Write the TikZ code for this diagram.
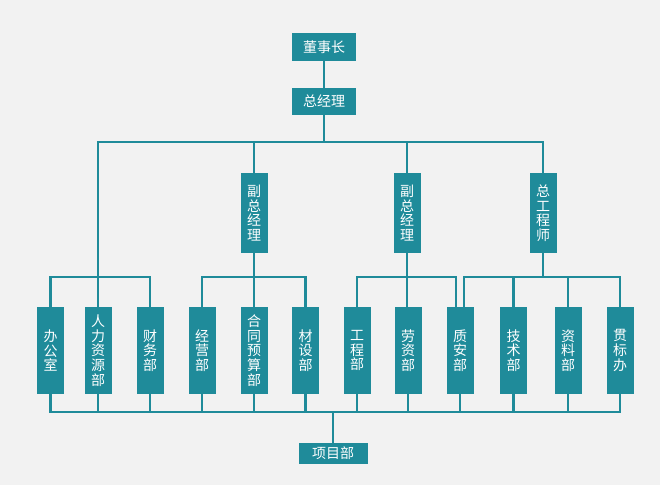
\documentclass[tikz,border=0pt]{standalone}
\usepackage{fontspec}
\newfontfamily\cjk{Noto Sans CJK SC}
\definecolor{teal1}{RGB}{31,139,154}
\definecolor{bg}{RGB}{242,242,242}
\begin{document}
\begin{tikzpicture}[x=1pt,y=-1pt,
  box/.style={fill=teal1,text=white,inner sep=0pt,align=center,font=\cjk\fontsize{14}{14.6}\selectfont},
  hbox/.style={box,minimum width=64pt,minimum height=27.5pt},
  mbox/.style={box,minimum width=27pt,minimum height=80pt},
  dbox/.style={box,minimum width=27pt,minimum height=87pt},
  conn/.style={draw=teal1,line width=2.2pt}]
\fill[bg] (0,0) rectangle (660,485);
\useasboundingbox (0,0) rectangle (660,485);
\coordinate (ybus) at (0,142);
\coordinate (ybar) at (0,277);
\coordinate (ybot) at (0,412);
% top
\node[hbox] (dsz) at (324,47) {董事长};
\node[hbox] (zjl) at (324,101.5) {总经理};
% middle
\node[mbox] (fz1) at (254,213) {副\\总\\经\\理};
\node[mbox] (fz2) at (407,213) {副\\总\\经\\理};
\node[mbox] (zgcs) at (543,213) {总\\工\\程\\师};
% departments
\node[dbox] (bgs) at (50.5,350.5) {办\\公\\室};
\node[dbox] (rlzy) at (98,350.5) {人\\力\\资\\源\\部};
\node[dbox] (cwb) at (150,350.5) {财\\务\\部};
\node[dbox] (jyb) at (202,350.5) {经\\营\\部};
\node[dbox] (htys) at (254,350.5) {合\\同\\预\\算\\部};
\node[dbox] (csb) at (305.5,350.5) {材\\设\\部};
\node[dbox] (gcb) at (357,350.5) {工\\程\\部};
\node[dbox] (lzb) at (408,350.5) {劳\\资\\部};
\node[dbox] (zab) at (460,350.5) {质\\安\\部};
\node[dbox] (jsb) at (513.5,350.5) {技\\术\\部};
\node[dbox] (zlb) at (568,350.5) {资\\料\\部};
\node[dbox] (gbb) at (620,350.5) {贯\\标\\办};
\node[box,minimum width=69pt,minimum height=21.5pt] (xmb) at (333,453.5) {项目部};
\coordinate (za1) at ([xshift=-4pt]zab.north);
\coordinate (za2) at ([xshift=4pt]zab.north);
% connectors
\draw[conn] (dsz.south) -- (zjl.north);
\draw[conn] (zjl.south) -- (zjl.south |- ybus);
\draw[conn] (rlzy.north) |- (zgcs.north |- ybus) -- (zgcs.north);
\draw[conn] (fz1.north) -- (fz1.north |- ybus);
\draw[conn] (fz2.north) -- (fz2.north |- ybus);
% group 1
\draw[conn] (bgs.north) |- (cwb.north |- ybar) -- (cwb.north);
% group 2
\draw[conn] (fz1.south) -- (htys.north);
\draw[conn] (jyb.north) |- (csb.north |- ybar) -- (csb.north);
% group 3
\draw[conn] (fz2.south) -- (fz2.south |- lzb.north);
\draw[conn] (gcb.north) |- (za1 |- ybar) -- (za1);
% group 4
\draw[conn] (zgcs.south) -- (zgcs.south |- ybar);
\draw[conn] (za2) |- (gbb.north |- ybar) -- (gbb.north);
\draw[conn] (jsb.north) -- (jsb.north |- ybar);
\draw[conn] (zlb.north) -- (zlb.north |- ybar);
% bottom
\draw[conn] (bgs.south) |- (gbb.south |- ybot) -- (gbb.south);
\foreach \n in {rlzy,cwb,jyb,htys,csb,gcb,lzb,zab,jsb,zlb}
  \draw[conn] (\n.south) -- (\n.south |- ybot);
\draw[conn] (xmb.north) -- (xmb.north |- ybot);
\end{tikzpicture}
\end{document}
